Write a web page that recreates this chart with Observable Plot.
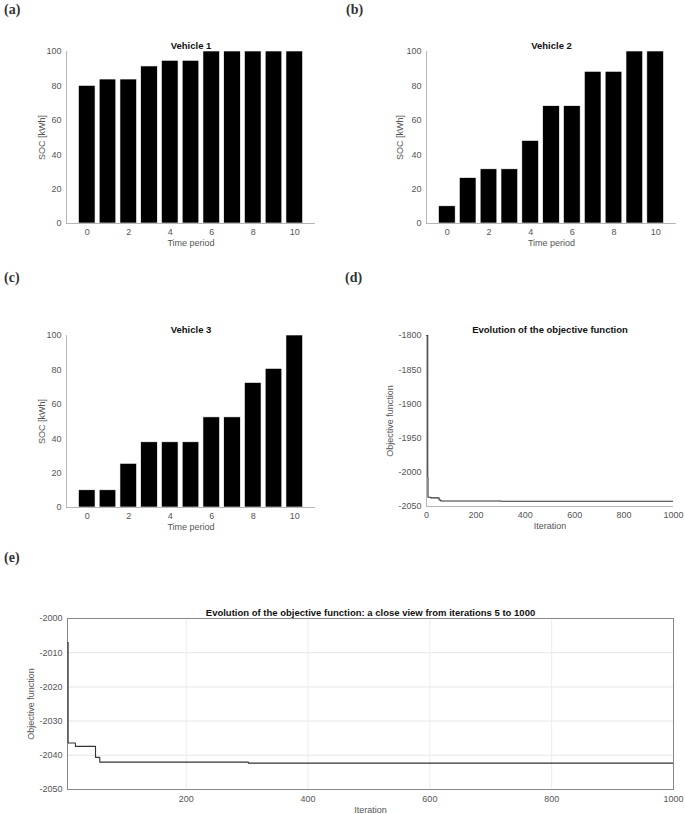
<!DOCTYPE html>
<html><head><meta charset="utf-8">
<script src="https://cdn.jsdelivr.net/npm/d3@7"></script>
<script src="https://cdn.jsdelivr.net/npm/@observablehq/plot@0.6"></script>
<style>
body{margin:0;background:#fff;}
#root{position:relative;width:685px;height:814px;overflow:hidden;background:#fff;}
.panel{position:absolute;}
.panel svg{display:block;}
.lab{position:absolute;font-family:"Liberation Serif","Times New Roman",serif;font-size:14px;font-weight:bold;color:#333;line-height:14px;}
</style></head><body><div id="root"></div><script>
// ---- data ----
const periods = [0, 1, 2, 3, 4, 5, 6, 7, 8, 9, 10];
const periodTicks = [0, 2, 4, 6, 8, 10];
const socTicks = [0, 20, 40, 60, 80, 100];
const vehicle1 = [80, 83.7, 83.7, 91.3, 94.6, 94.6, 100, 100, 100, 100, 100];
const vehicle2 = [10, 26.4, 31.5, 31.5, 48, 68.2, 68.2, 88.2, 88.2, 100, 100];
const vehicle3 = [10, 10, 25.4, 37.9, 37.9, 37.9, 52.4, 52.4, 72.4, 80.6, 100];
const vehicleTitles = ["Vehicle 1", "Vehicle 2", "Vehicle 3"];
const iterations = [1, 5, 6, 18, 51, 58, 302, 1000];
const objective = [-1800, -2007, -2036.4, -2037.4, -2040.6, -2042.0, -2042.3, -2042.3];
const iterTicksD = [0, 200, 400, 600, 800, 1000];
const objTicksD = [-1800, -1850, -1900, -1950, -2000, -2050];
const iterTicksE = [200, 400, 600, 800, 1000];
const objTicksE = [-2000, -2010, -2020, -2030, -2040, -2050];
const titleD = "Evolution of the objective function";
const titleE = "Evolution of the objective function: a close view from iterations 5 to 1000";
const panelLabels = ["(a)", "(b)", "(c)", "(d)", "(e)"];

const FONT = '"Liberation Sans", Arial, sans-serif';
const AXIS = "#b5b5b5";
const fmt = d => String(d);
const root = document.getElementById("root");

function place(node, left, top) {
  const d = document.createElement("div");
  d.className = "panel";
  d.style.left = left + "px";
  d.style.top = top + "px";
  d.appendChild(node);
  root.appendChild(d);
}
function label(text, left, top) {
  const d = document.createElement("div");
  d.className = "lab";
  d.textContent = text;
  d.style.left = left + "px";
  d.style.top = top + "px";
  root.appendChild(d);
}

function barPanel(values, title, m) {
  const data = periods.map((t, i) => ({t, v: values[i]}));
  return Plot.plot({
    width: m.width, height: m.height,
    marginLeft: m.left, marginRight: m.right, marginTop: m.top, marginBottom: m.bottom,
    style: {fontFamily: FONT, fontSize: "9px", color: "#555", background: "white", overflow: "visible"},
    x: {domain: [-1, 11], ticks: periodTicks, tickFormat: fmt, tickSize: 0, tickPadding: 5,
        label: "Time period", labelAnchor: "center", labelArrow: "none", labelOffset: 22},
    y: {domain: [0, 100], ticks: socTicks, tickFormat: fmt, tickSize: 0, tickPadding: 5,
        label: "SOC [kWh]", labelAnchor: "center", labelArrow: "none", labelOffset: m.ylab},
    marks: [
      Plot.rectY(data, {x1: d => d.t - 0.4, x2: d => d.t + 0.4, y: "v", fill: "black", stroke: "white", strokeWidth: 0.6}),
      Plot.ruleX([-1], {stroke: AXIS}),
      Plot.ruleY([0], {stroke: AXIS}),
      Plot.text([title], {text: d => d, frameAnchor: "top", lineAnchor: "bottom", dy: -3,
        fontWeight: "bold", fontSize: 9.5, fill: "#111"})
    ]
  });
}

const iterData = iterations.map((it, i) => ({it, obj: objective[i]}));

function panelD() {
  return Plot.plot({
    width: 345, height: 250,
    marginLeft: 86, marginRight: 12, marginTop: 55, marginBottom: 24,
    style: {fontFamily: FONT, fontSize: "9px", color: "#555", background: "white", overflow: "visible"},
    x: {domain: [0, 1000], ticks: iterTicksD, tickFormat: fmt, tickSize: 0, tickPadding: 5,
        label: "Iteration", labelAnchor: "center", labelArrow: "none", labelOffset: 22},
    y: {domain: [-2050, -1800], ticks: objTicksD, tickFormat: fmt, tickSize: 0, tickPadding: 5,
        label: "Objective function", labelAnchor: "center", labelArrow: "none", labelOffset: 40},
    marks: [
      Plot.ruleX([0], {stroke: AXIS}),
      Plot.ruleY([-2050], {stroke: AXIS}),
      Plot.line(iterData, {x: "it", y: "obj", curve: "step-after", stroke: "#333", strokeWidth: 1.1, clip: true}),
      Plot.text([titleD], {text: d => d, frameAnchor: "top", lineAnchor: "bottom", dy: -3,
        fontWeight: "bold", fontSize: 9.5, fill: "#111"})
    ]
  });
}

function panelE() {
  const data = iterData.filter(d => d.it >= 5);
  return Plot.plot({
    width: 685, height: 254,
    marginLeft: 67, marginRight: 12, marginTop: 58, marginBottom: 25,
    style: {fontFamily: FONT, fontSize: "9px", color: "#555", background: "white", overflow: "visible"},
    x: {domain: [5, 1000], ticks: iterTicksE, tickFormat: fmt, tickSize: 0, tickPadding: 6,
        label: "Iteration", labelAnchor: "center", labelArrow: "none", labelOffset: 23},
    y: {domain: [-2050, -2000], ticks: objTicksE, tickFormat: fmt, tickSize: 0, tickPadding: 5,
        label: "Objective function", labelAnchor: "center", labelArrow: "none", labelOffset: 40},
    marks: [
      Plot.gridY(objTicksE, {stroke: "#e6e6e6", strokeOpacity: 1}),
      Plot.gridX(iterTicksE, {stroke: "#ececec", strokeOpacity: 1}),
      Plot.frame({stroke: "#888"}),
      Plot.line(data, {x: "it", y: "obj", curve: "step-after", stroke: "#333", strokeWidth: 1.1, clip: true}),
      Plot.text([titleE], {text: d => d, frameAnchor: "top", lineAnchor: "bottom", dy: -3,
        fontWeight: "bold", fontSize: 9.5, fill: "#111"})
    ]
  });
}

place(barPanel(vehicle1, vehicleTitles[0], {width: 340, height: 250, left: 66, right: 25, top: 51, bottom: 27, ylab: 28}), 0, 0);
place(barPanel(vehicle2, vehicleTitles[1], {width: 345, height: 250, left: 86, right: 9, top: 51, bottom: 27, ylab: 30}), 340, 0);
place(barPanel(vehicle3, vehicleTitles[2], {width: 340, height: 250, left: 66, right: 25, top: 55, bottom: 23, ylab: 28}), 0, 280);
place(panelD(), 340, 280);
place(panelE(), 0, 560);

label(panelLabels[0], 4, 3);
label(panelLabels[1], 346, 3);
label(panelLabels[2], 4, 271);
label(panelLabels[3], 345, 271);
label(panelLabels[4], 4, 551);
</script></body></html>
